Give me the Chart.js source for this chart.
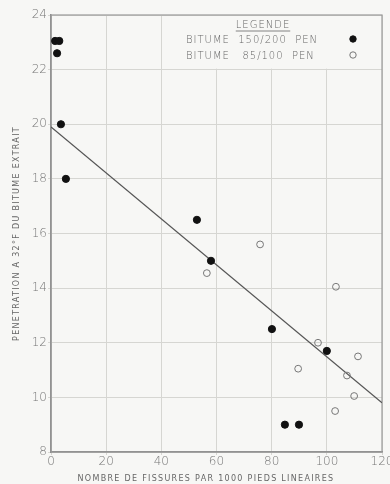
<!DOCTYPE html>
<html>
<head>
<meta charset="utf-8">
<script src="https://cdn.jsdelivr.net/npm/chart.js@4/dist/chart.umd.min.js"></script>
<style>
  html, body { margin: 0; padding: 0; background: #f7f7f5; }
  #wrap { width: 390px; height: 484px; position: relative; }
</style>
</head>
<body>
<div id="wrap"><canvas id="fissures"></canvas></div>
<script>
// bitume 150/200 pen (points pleins)
const fissures150 = [1.5, 3, 2.2, 3.6, 5.4, 52.9, 58, 80.1, 100, 84.8, 89.9];
const penetration150 = [23.05, 23.05, 22.6, 20, 18, 16.5, 15, 12.5, 11.7, 9, 9];

// bitume 85/100 pen (cercles vides)
const fissures85 = [75.8, 56.5, 103.3, 96.8, 111.3, 89.6, 107.3, 109.9, 103];
const penetration85 = [15.6, 14.55, 14.05, 12, 11.5, 11.05, 10.8, 10.05, 9.5];

// droite de regression
const droiteX = [0, 120];
const droiteY = [19.9, 9.8];

const xTicks = [0, 20, 40, 60, 80, 100, 120];
const yTicks = [8, 10, 12, 14, 16, 18, 20, 22, 24];

const legendeLabels = ['BITUME  150/200  PEN', 'BITUME   85/100  PEN'];
const titreX = 'NOMBRE DE FISSURES PAR 1000 PIEDS LINEAIRES';
const titreY = 'PENETRATION A 32°F DU BITUME EXTRAIT';

const gris = '#666';
const font = "'DejaVu Sans', sans-serif";

function pts(xs, ys) {
  return xs.map((x, i) => ({ x: x, y: ys[i] }));
}

// legende dessinee dans le coin haut droit du cadre
const legendeBox = {
  id: 'legendeBox',
  afterDatasetsDraw(chart) {
    const ctx = chart.ctx;
    const area = chart.chartArea;
    const yScale = chart.scales.y;
    const bottom = yScale.getPixelForValue(22) - 1;
    const left = 178;
    ctx.save();
    ctx.fillStyle = '#f7f7f5';
    ctx.fillRect(left, area.top + 1, area.right - left - 1, bottom - area.top - 1);

    ctx.fillStyle = gris;
    ctx.font = '300 10px ' + font;
    ctx.letterSpacing = '1px';
    ctx.textBaseline = 'middle';
    ctx.textAlign = 'center';
    ctx.fillText('LEGENDE', 263, 25);
    const w = ctx.measureText('LEGENDE').width;
    ctx.strokeStyle = gris;
    ctx.lineWidth = 0.8;
    ctx.beginPath();
    ctx.moveTo(263 - w / 2, 31);
    ctx.lineTo(263 + w / 2, 31);
    ctx.stroke();

    ctx.textAlign = 'left';
    const rows = [40, 56];
    chart.data.datasets.slice(0, 2).forEach((ds, i) => {
      ctx.fillStyle = gris;
      ctx.fillText(legendeLabels[i], 186, rows[i]);
      ctx.beginPath();
      ctx.arc(353, rows[i] - 1, 3.2, 0, Math.PI * 2);
      ctx.fillStyle = ds.backgroundColor;
      ctx.fill();
      ctx.strokeStyle = ds.borderColor;
      ctx.lineWidth = 1;
      ctx.stroke();
    });
    ctx.restore();
  }
};

// titres des axes, en lettrage espace
const titres = {
  id: 'titres',
  afterDraw(chart) {
    const ctx = chart.ctx;
    const a = chart.chartArea;
    ctx.save();
    ctx.fillStyle = gris;
    ctx.font = '8px ' + font;
    ctx.letterSpacing = '1.3px';
    ctx.textAlign = 'center';
    ctx.textBaseline = 'middle';
    ctx.fillText(titreX, 206, 479);
    ctx.translate(17, (a.top + a.bottom) / 2);
    ctx.rotate(-Math.PI / 2);
    ctx.fillText(titreY, 0, 0);
    ctx.restore();
  }
};

new Chart(document.getElementById('fissures'), {
  type: 'scatter',
  data: {
    datasets: [
      {
        label: 'BITUME 150/200 PEN',
        data: pts(fissures150, penetration150),
        backgroundColor: '#111',
        borderColor: '#111',
        pointRadius: 3.6,
        borderWidth: 1
      },
      {
        label: 'BITUME 85/100 PEN',
        data: pts(fissures85, penetration85),
        backgroundColor: 'rgba(0,0,0,0)',
        borderColor: '#777',
        pointRadius: 3.4,
        borderWidth: 1
      },
      {
        type: 'line',
        label: 'regression',
        data: pts(droiteX, droiteY),
        borderColor: '#555',
        borderWidth: 1.3,
        pointRadius: 0,
        fill: false
      }
    ]
  },
  options: {
    responsive: true,
    maintainAspectRatio: false,
    animation: false,
    layout: { padding: { top: 15, right: 8, left: 0, bottom: 0 } },
    plugins: {
      legend: { display: false },
      tooltip: { enabled: false }
    },
    scales: {
      x: {
        type: 'linear',
        min: 0,
        max: 120,
        afterBuildTicks: s => { s.ticks = xTicks.map(v => ({ value: v })); },
        afterFit: s => { s.height = 32; s.paddingLeft = 0; s.paddingRight = 0; },
        grid: { color: '#d6d6d2', lineWidth: 1, tickLength: 3 },
        border: { color: '#888', width: 1.5 },
        ticks: {
          color: '#777',
          font: { family: font, size: 12, weight: '200' },
          padding: 0,
          maxRotation: 0
        }
      },
      y: {
        type: 'linear',
        min: 8,
        max: 24,
        afterBuildTicks: s => { s.ticks = yTicks.map(v => ({ value: v })); },
        afterFit: s => { s.width = 51; s.paddingTop = 0; s.paddingBottom = 0; },
        grid: { color: '#d6d6d2', lineWidth: 1, tickLength: 3 },
        border: { color: '#888', width: 1.5 },
        ticks: {
          color: '#777',
          font: { family: font, size: 12, weight: '200' },
          padding: 1
        }
      }
    }
  },
  plugins: [
    legendeBox,
    titres,
    {
      // cadre complet autour de la zone de trace
      id: 'cadre',
      beforeDatasetsDraw(chart) {
        const a = chart.chartArea;
        const ctx = chart.ctx;
        ctx.save();
        ctx.strokeStyle = '#999';
        ctx.lineWidth = 1.2;
        ctx.strokeRect(a.left, a.top, a.right - a.left, a.bottom - a.top);
        ctx.restore();
      }
    }
  ]
});
</script>
</body>
</html>
